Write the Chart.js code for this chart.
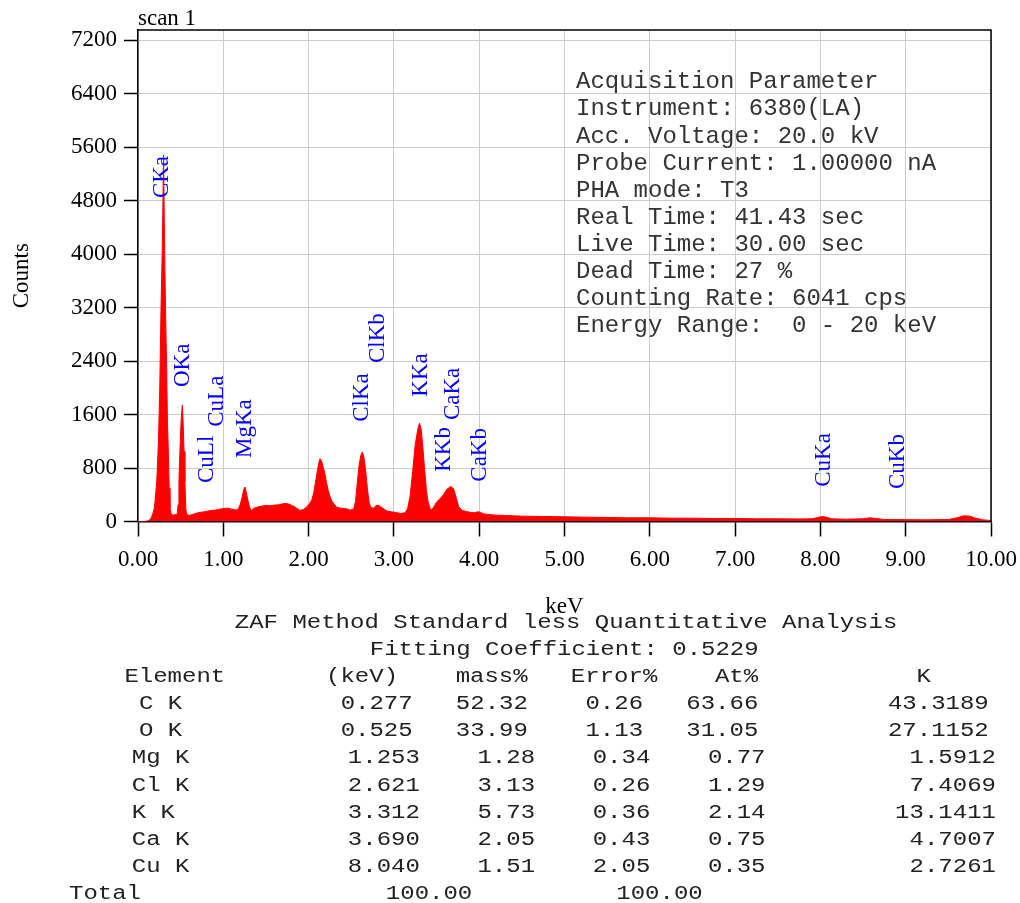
<!DOCTYPE html>
<html>
<head>
<meta charset="utf-8">
<title>scan 1</title>
<script src="https://cdn.jsdelivr.net/npm/chart.js@4.4.1/dist/chart.umd.min.js"></script>
<style>
  html, body { margin: 0; padding: 0; background: #fff; }
  #wrap { position: relative; width: 1020px; height: 903px; overflow: hidden; }
  #spectrum { position: absolute; left: 0; top: 0; }
  .zaf-line {
    position: absolute; margin: 0;
    font-family: "Liberation Mono", "DejaVu Sans Mono", monospace;
    font-size: 24px; line-height: 24px; white-space: pre; color: #222;
    transform: scaleY(0.86); transform-origin: 0 18.4px;
  }
</style>
</head>
<body>
<div id="wrap">
  <canvas id="spectrum" width="1020" height="903"></canvas>
  <div id="zaf"></div>
</div>
<script>
// spectrum (keV / counts)
const energy = [
  0.00, 0.08, 0.12, 0.15, 0.17, 0.19, 0.20, 0.22, 0.24, 0.255, 0.27, 0.285, 0.30, 0.31, 0.325, 0.336, 0.345, 0.357, 0.365, 0.375,
  0.39, 0.41, 0.43, 0.45, 0.46, 0.47, 0.48, 0.49, 0.50, 0.51, 0.52, 0.53, 0.54, 0.55, 0.56, 0.57, 0.60, 0.65, 0.70, 0.75,
  0.80, 0.85, 0.90, 0.95, 1.00, 1.05, 1.10, 1.15, 1.18, 1.20, 1.22, 1.24, 1.255, 1.27, 1.29, 1.31, 1.33, 1.36, 1.40, 1.45,
  1.50, 1.55, 1.60, 1.65, 1.70, 1.74, 1.78, 1.82, 1.86, 1.90, 1.94, 1.98, 2.01, 2.04, 2.06, 2.08, 2.10, 2.12, 2.135, 2.15,
  2.17, 2.19, 2.21, 2.23, 2.25, 2.27, 2.30, 2.33, 2.37, 2.43, 2.49, 2.53, 2.55, 2.57, 2.59, 2.61, 2.63, 2.65, 2.67, 2.69,
  2.71, 2.73, 2.76, 2.79, 2.81, 2.84, 2.88, 2.92, 2.97, 3.02, 3.08, 3.13, 3.16, 3.19, 3.22, 3.25, 3.28, 3.30, 3.32, 3.34,
  3.36, 3.38, 3.40, 3.43, 3.46, 3.50, 3.54, 3.58, 3.62, 3.665, 3.70, 3.73, 3.76, 3.80, 3.85, 3.90, 3.95, 3.98, 4.01, 4.05,
  4.10, 4.20, 4.30, 4.50, 4.75, 5.00, 5.25, 5.50, 5.75, 6.00, 6.25, 6.50, 6.75, 7.00, 7.25, 7.50, 7.75, 7.90, 7.95, 8.00,
  8.04, 8.08, 8.13, 8.30, 8.50, 8.58, 8.65, 8.75, 9.00, 9.25, 9.50, 9.60, 9.68, 9.75, 9.82, 9.90, 10.00
];
const counts = [
  0, 2, 10, 40, 100, 190, 300, 600, 1200, 2000, 3200, 4100, 5480, 4250, 3000, 2300, 1500, 1000, 500, 200,
  110, 95, 100, 105, 120, 250, 600, 1000, 1350, 1600, 1740, 1450, 1050, 600, 200, 110, 90, 110, 130, 140,
  150, 165, 170, 180, 195, 200, 185, 170, 200, 260, 360, 480, 515, 430, 310, 210, 160, 200, 215, 230,
  240, 235, 245, 250, 265, 270, 255, 230, 200, 165, 180, 220, 265, 330, 430, 580, 740, 880, 940, 910,
  820, 720, 580, 460, 380, 310, 260, 215, 200, 195, 170, 190, 300, 570, 820, 980, 1040, 950, 750, 480,
  280, 210, 200, 235, 245, 225, 190, 155, 145, 135, 120, 130, 190, 380, 750, 1150, 1380, 1470, 1380, 1100,
  780, 480, 300, 170, 200, 290, 340, 400, 480, 525, 490, 360, 220, 165, 150, 135, 130, 145, 140, 115,
  105, 95, 90, 80, 75, 70, 65, 60, 55, 55, 50, 50, 45, 45, 40, 40, 38, 40, 55, 70,
  72, 60, 40, 35, 40, 55, 45, 30, 28, 25, 30, 55, 85, 80, 50, 25, 15
];

// peak markers: name, line energy (keV), count where the label starts
const peakNames = ['CKa', 'OKa', 'CuLl', 'CuLa', 'MgKa', 'ClKa', 'ClKb', 'KKa', 'KKb', 'CaKa', 'CaKb', 'CuKa', 'CuKb'];
const peakKeV = [0.277, 0.525, 0.811, 0.930, 1.253, 2.621, 2.815, 3.312, 3.589, 3.690, 4.012, 8.040, 8.904];
const peakLabelAt = [4836, 2011, 576, 1417, 949, 1492, 2370, 1866, 744, 1517, 595, 520, 486];

const yTicks = [0, 800, 1600, 2400, 3200, 4000, 4800, 5600, 6400, 7200];
const xTicks = [0, 1, 2, 3, 4, 5, 6, 7, 8, 9, 10];

const acqParams = [
  'Acquisition Parameter',
  'Instrument: 6380(LA)',
  'Acc. Voltage: 20.0 kV',
  'Probe Current: 1.00000 nA',
  'PHA mode: T3',
  'Real Time: 41.43 sec',
  'Live Time: 30.00 sec',
  'Dead Time: 27 %',
  'Counting Rate: 6041 cps',
  'Energy Range:  0 - 20 keV'
];

// quantitative table
const elements = ['C K', 'O K', 'Mg K', 'Cl K', 'K K', 'Ca K', 'Cu K'];
const lineKeV = ['0.277', '0.525', '1.253', '2.621', '3.312', '3.690', '8.040'];
const massPct = ['52.32', '33.99', '1.28', '3.13', '5.73', '2.05', '1.51'];
const errorPct = ['0.26', '1.13', '0.34', '0.26', '0.36', '0.43', '2.05'];
const atPct = ['63.66', '31.05', '0.77', '1.29', '2.14', '0.75', '0.35'];
const kValue = ['43.3189', '27.1152', '1.5912', '7.4069', '13.1411', '4.7007', '2.7261'];
const totals = ['100.00', '100.00'];

const SERIF = '"Liberation Serif", "Times New Roman", serif';
const MONO = '"Liberation Mono", "DejaVu Sans Mono", monospace';

const decor = {
  id: 'decor',
  afterDatasetsDraw(chart) {
    const { ctx, chartArea: a, scales: { x, y } } = chart;
    ctx.save();
    // frame top + right
    ctx.strokeStyle = '#000';
    ctx.lineWidth = 1.5;
    ctx.beginPath();
    ctx.moveTo(a.left, a.top);
    ctx.lineTo(a.right, a.top);
    ctx.lineTo(a.right, a.bottom);
    ctx.stroke();

    // rotated peak labels
    ctx.fillStyle = '#0000ff';
    ctx.font = `23px ${SERIF}`;
    ctx.textAlign = 'left';
    ctx.textBaseline = 'middle';
    peakNames.forEach((name, i) => {
      ctx.save();
      ctx.translate(x.getPixelForValue(peakKeV[i]), y.getPixelForValue(peakLabelAt[i]));
      ctx.rotate(-Math.PI / 2);
      ctx.fillText(name, 0, 0);
      ctx.restore();
    });

    // title
    ctx.fillStyle = '#000';
    ctx.textBaseline = 'alphabetic';
    ctx.fillText('scan 1', a.left, 25);

    // acquisition parameters
    ctx.fillStyle = '#333';
    ctx.font = `24px ${MONO}`;
    acqParams.forEach((t, i) => ctx.fillText(t, 576, 88.3 + i * 27.1));
    ctx.restore();
  }
};

new Chart(document.getElementById('spectrum'), {
  type: 'line',
  data: {
    datasets: [{
      label: 'scan 1',
      data: energy.map((e, i) => ({ x: e, y: counts[i] })),
      borderColor: '#ff0000',
      backgroundColor: '#ff0000',
      borderWidth: 1,
      fill: 'origin',
      pointRadius: 0,
      tension: 0
    }]
  },
  options: {
    responsive: false,
    animation: false,
    layout: { padding: { left: 0, top: 30, right: 29, bottom: 280 } },
    plugins: { legend: { display: false }, tooltip: { enabled: false } },
    scales: {
      x: {
        type: 'linear', min: 0, max: 10,
        // fixed box; the outer labels may hang into the layout padding
        afterFit: s => { s.height = 101.5; s.paddingLeft = 0; s.paddingRight = 0; },
        afterBuildTicks: s => { s.ticks = xTicks.map(v => ({ value: v })); },
        grid: { color: '#cccccc', lineWidth: 1, tickColor: '#000', tickLength: 15, tickWidth: 1.5 },
        border: { color: '#000', width: 1.5 },
        ticks: { color: '#000', font: { family: SERIF, size: 23 }, padding: 10, maxRotation: 0, callback: v => v.toFixed(2) },
        title: { display: true, text: 'keV', color: '#000', font: { family: SERIF, size: 23 }, padding: { top: 0, bottom: 2 } }
      },
      y: {
        min: 0, max: 7350,
        afterFit: s => { s.width = 138; },
        afterBuildTicks: s => { s.ticks = yTicks.map(v => ({ value: v })); },
        grid: { color: '#cccccc', lineWidth: 1, tickColor: '#000', tickLength: 14, tickWidth: 1.5 },
        border: { color: '#000', width: 1.5 },
        ticks: { color: '#000', font: { family: SERIF, size: 23 }, padding: 7, callback: v => String(v) },
        title: { display: true, text: 'Counts', color: '#000', font: { family: SERIF, size: 23 }, padding: { top: 8, bottom: 0 } }
      }
    }
  },
  plugins: [decor]
});

// ZAF table below the plot (the C and O rows sit half a character further left)
const zafLines = [
  [234.8, 'ZAF Method Standard less Quantitative Analysis'],
  [369.8, 'Fitting Coefficient: 0.5229'],
  [124.4, 'Element       (keV)    mass%   Error%    At%           K'],
  ...elements.map((el, i) => [
    i < 2 ? 124.6 : 131.8,
    (i < 2 ? ' ' + el : el).padEnd(4) + lineKeV[i].padStart(16) + massPct[i].padStart(8) +
      errorPct[i].padStart(8) + atPct[i].padStart(8) + kValue[i].padStart(16)
  ]),
  [69, 'Total' + totals[0].padStart(23) + totals[1].padStart(16)]
];
document.getElementById('zaf').innerHTML = zafLines.map(([left, text], i) =>
  `<div class="zaf-line" style="left:${left}px;top:${(628.3 + i * 27.1 - 18.4).toFixed(1)}px">${text}</div>`
).join('');
</script>
</body>
</html>
